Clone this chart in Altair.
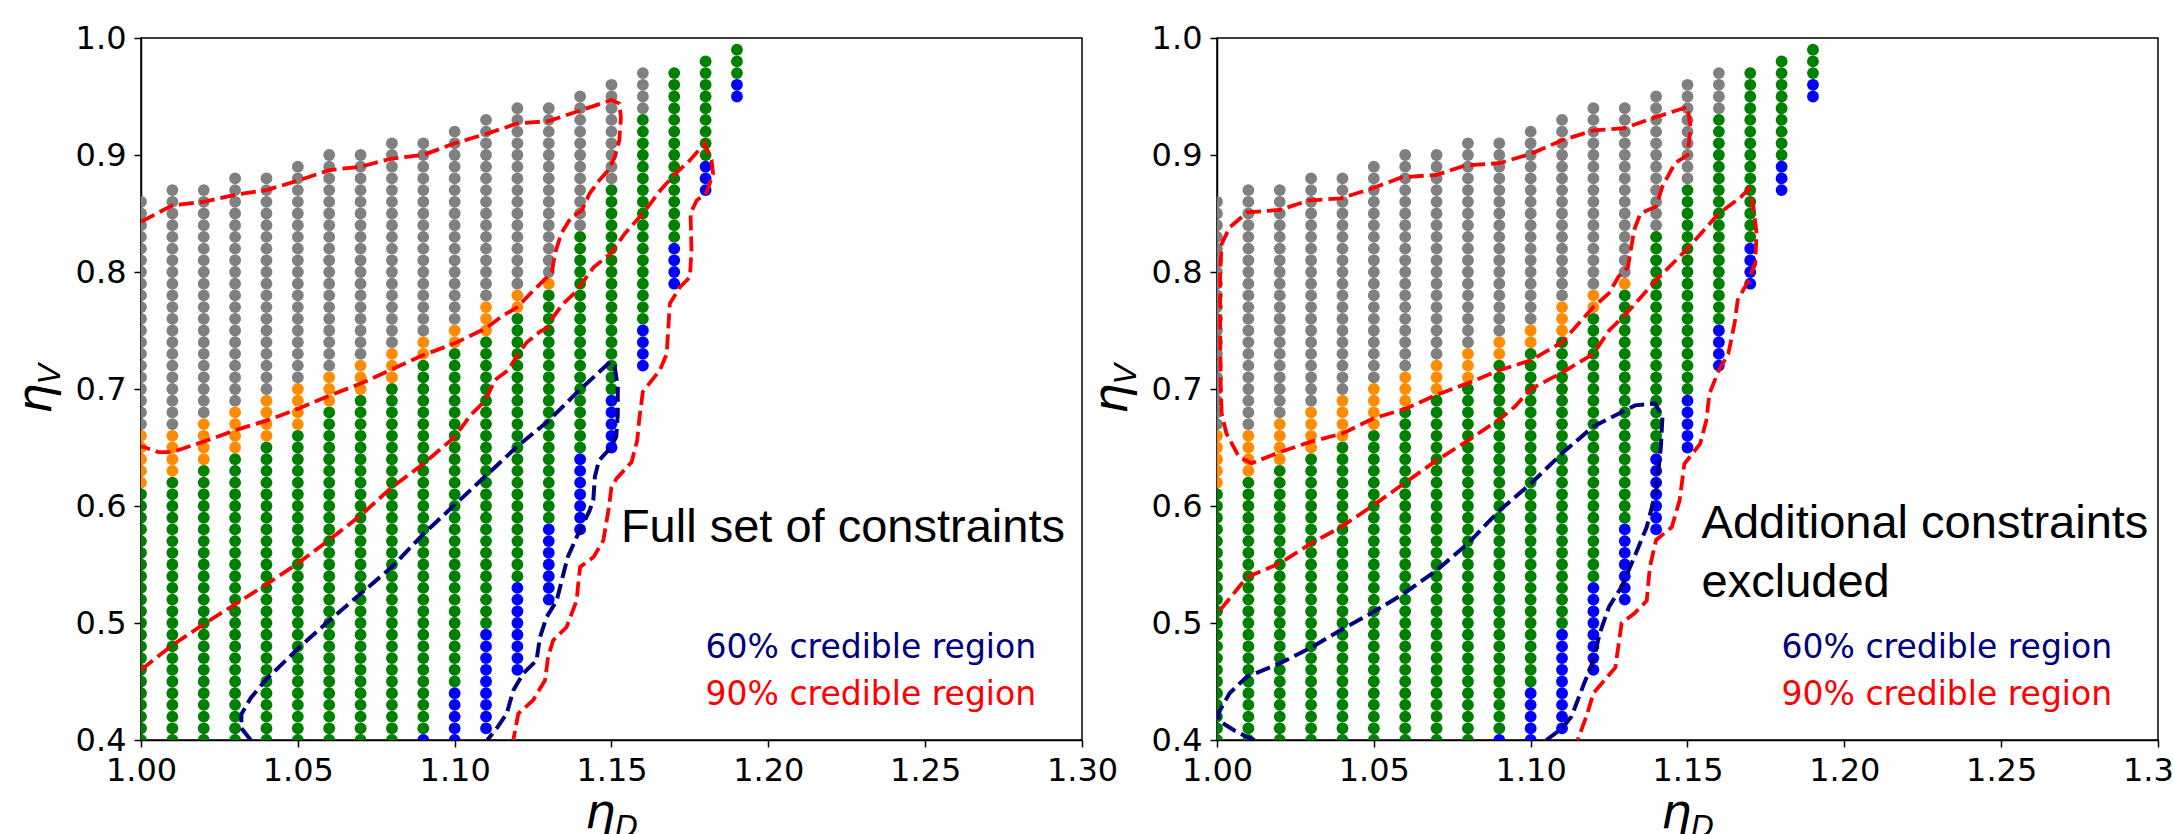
import altair as alt
import pandas as pd

# ---------------- grid of models (same in both panels) ----------------
col_x = [1.00, 1.01, 1.02, 1.03, 1.04, 1.05, 1.06, 1.07, 1.08, 1.09,
         1.10, 1.11, 1.12, 1.13, 1.14, 1.15, 1.16, 1.17, 1.18, 1.19]
blue_lo = [None] * 9 + [0.40, 0.40, 0.41, 0.46, 0.52, 0.58, 0.65, 0.72, 0.79, 0.87, 0.95]
blue_hi = [None] * 9 + [0.40, 0.44, 0.49, 0.53, 0.58, 0.64, 0.69, 0.75, 0.82, 0.89, 0.96]
green_lo = [0.40] * 9 + [0.41, 0.45, 0.50, 0.54, 0.59, 0.65, 0.70, 0.76, 0.83, 0.90, 0.97]
green_hi = [0.61, 0.62, 0.63, 0.64, 0.65, 0.66, 0.68, 0.69, 0.70, 0.72,
            0.73, 0.74, 0.76, 0.78, 0.83, 0.87, 0.93, 0.97, 0.98, 0.99]
orange_lo = [0.62, 0.63, 0.64, 0.65, 0.66, 0.67, 0.69, 0.70, 0.71, 0.73,
             0.74, 0.75, 0.77, 0.79] + [None] * 6
orange_hi = [0.66, 0.66, 0.67, 0.68, 0.69, 0.70, 0.71, 0.72, 0.73, 0.74,
             0.75, 0.77, 0.78, 0.79] + [None] * 6
gray_lo = [0.67, 0.67, 0.68, 0.69, 0.70, 0.71, 0.72, 0.73, 0.74, 0.75,
           0.76, 0.78, 0.79, 0.80, 0.84, 0.88, 0.94] + [None] * 3
gray_hi = [0.86, 0.87, 0.87, 0.88, 0.88, 0.89, 0.90, 0.90, 0.91, 0.91,
           0.92, 0.93, 0.94, 0.94, 0.95, 0.96, 0.97] + [None] * 3

cats = ["gray", "orange", "green", "blue"]
cat_colors = ["#808080", "#ff8c00", "#008000", "#0000ff"]

rows = []
for i, xv in enumerate(col_x):
    for cat, lo, hi in (("green", green_lo[i], green_hi[i]),
                        ("blue", blue_lo[i], blue_hi[i]),
                        ("orange", orange_lo[i], orange_hi[i]),
                        ("gray", gray_lo[i], gray_hi[i])):
        if lo is None:
            continue
        for k in range(round(lo * 100), round(hi * 100) + 1):
            rows.append({"x": xv, "y": k / 100, "c": cat})
points_df = pd.DataFrame(rows)

# ---------------- contours, left panel (full set of constraints) ----------------
L_red_up_x = [1.000, 1.0036, 1.010, 1.020, 1.030, 1.040, 1.050, 1.060, 1.070, 1.080, 1.090, 1.100,
              1.110, 1.120, 1.130, 1.140, 1.150, 1.1525, 1.153, 1.1525, 1.151, 1.149, 1.146, 1.143,
              1.1406, 1.137, 1.134, 1.132, 1.131, 1.1296, 1.125, 1.120, 1.115, 1.110, 1.100, 1.090,
              1.0826, 1.070, 1.0603, 1.050, 1.040, 1.030, 1.020, 1.0099, 1.0056, 1.0009, 1.000]
L_red_up_y = [0.843, 0.848, 0.857, 0.860, 0.866, 0.870, 0.878, 0.887, 0.890, 0.897, 0.900, 0.910,
              0.918, 0.927, 0.929, 0.938, 0.947, 0.944, 0.932, 0.9125, 0.898, 0.887, 0.878, 0.867,
              0.853, 0.846, 0.833, 0.816, 0.800, 0.796, 0.784, 0.770, 0.762, 0.752, 0.739, 0.729,
              0.720, 0.7046, 0.6946, 0.683, 0.673, 0.6647, 0.655, 0.646, 0.646, 0.6504, 0.651]
L_red_lo_x = [1.000, 1.010, 1.020, 1.030, 1.040, 1.050, 1.060, 1.070, 1.080, 1.090, 1.100, 1.105,
              1.1097, 1.1128, 1.117, 1.1203, 1.123, 1.1272, 1.130, 1.1314, 1.1346, 1.1386, 1.1443,
              1.1497, 1.1543, 1.160, 1.1656, 1.170, 1.175, 1.1797, 1.1819, 1.1824, 1.1803, 1.1771,
              1.1752, 1.1755, 1.175, 1.1718, 1.1686, 1.1676, 1.1654, 1.160, 1.1588, 1.1582, 1.1564,
              1.1516, 1.150, 1.149, 1.1474, 1.1443, 1.140, 1.1393, 1.1389, 1.1357, 1.1314, 1.1298,
              1.1288, 1.125, 1.1203, 1.1187]
L_red_lo_y = [0.460, 0.481, 0.499, 0.516, 0.533, 0.551, 0.571, 0.592, 0.616, 0.636, 0.659, 0.6775,
              0.690, 0.7075, 0.716, 0.730, 0.740, 0.749, 0.753, 0.7615, 0.773, 0.783, 0.804,
              0.8157, 0.833, 0.850, 0.870, 0.883, 0.8955, 0.9097, 0.8955, 0.884, 0.868, 0.861,
              0.850, 0.8186, 0.7957, 0.787, 0.773, 0.730, 0.716, 0.6977, 0.673, 0.656, 0.6376,
              0.6234, 0.616, 0.596, 0.5706, 0.5564, 0.548, 0.531, 0.5194, 0.4966, 0.4852, 0.471,
              0.451, 0.434, 0.4226, 0.400]
L_navy_x = [1.035, 1.032, 1.032, 1.035, 1.040, 1.050, 1.060, 1.070, 1.080, 1.090, 1.100, 1.110,
            1.120, 1.130, 1.139, 1.1495, 1.151, 1.152, 1.152, 1.1515, 1.1495, 1.146, 1.1447,
            1.1442, 1.143, 1.139, 1.136, 1.1325, 1.1293, 1.1272, 1.1261, 1.1219, 1.1187, 1.1166,
            1.1134, 1.1104]
L_navy_y = [0.400, 0.410, 0.422, 0.436, 0.452, 0.478, 0.502, 0.525, 0.548, 0.576, 0.601, 0.626,
            0.651, 0.673, 0.697, 0.723, 0.719, 0.702, 0.679, 0.659, 0.649, 0.639, 0.625,
            0.605, 0.596, 0.574, 0.556, 0.519, 0.505, 0.488, 0.468, 0.457, 0.4425, 0.4226,
            0.410, 0.400]

# ---------------- contours, right panel (additional constraints excluded) ----------------
R_red_up_x = [1.0015, 1.0012, 1.001, 1.001, 1.0015, 1.004, 1.0096, 1.020, 1.029, 1.0395, 1.049,
              1.059, 1.070, 1.079, 1.090, 1.100, 1.110, 1.120, 1.130, 1.140, 1.150, 1.151, 1.150,
              1.146, 1.142, 1.140, 1.135, 1.133, 1.131, 1.128, 1.125, 1.120, 1.110, 1.100, 1.090,
              1.080, 1.070, 1.060, 1.050, 1.040, 1.030, 1.020, 1.011, 1.007, 1.003, 1.0015]
R_red_up_y = [0.679, 0.700, 0.750, 0.800, 0.824, 0.838, 0.851, 0.853, 0.861, 0.863, 0.871,
              0.881, 0.883, 0.891, 0.893, 0.901, 0.9125, 0.921, 0.923, 0.9325, 0.941, 0.924, 0.900,
              0.893, 0.873, 0.856, 0.850, 0.836, 0.804, 0.796, 0.782, 0.770, 0.740, 0.7245, 0.716,
              0.705, 0.695, 0.683, 0.675, 0.662, 0.655, 0.646, 0.6365, 0.642, 0.662, 0.679]
R_red_lo_x = [1.001, 1.0095, 1.020, 1.030, 1.0395, 1.049, 1.0595, 1.070, 1.080, 1.090, 1.095,
              1.100, 1.110, 1.120, 1.125, 1.130, 1.140, 1.150, 1.160, 1.167, 1.1695, 1.171, 1.172,
              1.1716, 1.1695, 1.166, 1.165, 1.163, 1.160, 1.157, 1.156, 1.154, 1.149, 1.1475,
              1.145, 1.140, 1.138, 1.137, 1.133, 1.129, 1.127, 1.120, 1.118, 1.115]
R_red_lo_y = [0.511, 0.539, 0.551, 0.568, 0.582, 0.599, 0.619, 0.639, 0.656, 0.674, 0.685,
              0.700, 0.714, 0.730, 0.750, 0.763, 0.793, 0.820, 0.850, 0.864, 0.871, 0.856, 0.833,
              0.807, 0.793, 0.776, 0.756, 0.730, 0.716, 0.696, 0.673, 0.653, 0.636, 0.605,
              0.582, 0.571, 0.548, 0.519, 0.508, 0.500, 0.462, 0.440, 0.422, 0.400]
R_navy_x = [1.012, 1.0096, 1.0054, 1.0005, 1.0005, 1.004, 1.0095, 1.020, 1.030, 1.0395, 1.049,
            1.0595, 1.070, 1.080, 1.090, 1.100, 1.110, 1.120, 1.1333, 1.1397, 1.142, 1.1415,
            1.140, 1.137, 1.133, 1.129, 1.125, 1.122, 1.120, 1.117, 1.113, 1.110, 1.105]
R_navy_y = [0.400, 0.4026, 0.4083, 0.4167, 0.423, 0.440, 0.454, 0.4655, 0.479, 0.494, 0.508,
            0.525, 0.545, 0.568, 0.596, 0.619, 0.645, 0.668, 0.686, 0.6875, 0.676, 0.650,
            0.613, 0.582, 0.556, 0.531, 0.514, 0.491, 0.468, 0.448, 0.420, 0.410, 0.400]

x_ticks = [1.00, 1.05, 1.10, 1.15, 1.20, 1.25, 1.30]
y_ticks = [0.4, 0.5, 0.6, 0.7, 0.8, 0.9, 1.0]

xs = alt.Scale(domain=[1.0, 1.3], nice=False, zero=False)
ys = alt.Scale(domain=[0.4, 1.0], nice=False, zero=False)
x_axis = alt.Axis(values=x_ticks, format=".2f", labelFlush=False, labelOverlap=False, title=None)
y_axis = alt.Axis(values=y_ticks, format=".1f", labelFlush=False, labelOverlap=False, title=None)


def path_df(xl, yl, pid):
    return pd.DataFrame({"x": xl, "y": yl, "i": list(range(len(xl))), "id": pid})


def text_layer(txt, px, py, size, angle=0, font="DejaVu Sans", italic=True):
    return alt.Chart(pd.DataFrame({"t": [txt]})).mark_text(
        font=font, fontSize=size, fontStyle="italic" if italic else "normal",
        align="left", baseline="alphabetic", angle=angle, color="black"
    ).encode(text="t:N", x=alt.value(px), y=alt.value(py))


def panel(red_paths, navy_path, notes):
    pts = alt.Chart(points_df).mark_circle(size=140, opacity=1, clip=True).encode(
        x=alt.X("x:Q", scale=xs, axis=x_axis),
        y=alt.Y("y:Q", scale=ys, axis=y_axis),
        color=alt.Color("c:N", scale=alt.Scale(domain=cats, range=cat_colors), legend=None),
    )
    red_df = pd.concat([path_df(a, b, k) for k, (a, b) in enumerate(red_paths)])
    red = alt.Chart(red_df).mark_line(
        clip=True, color="#ff0000", strokeWidth=3.8, strokeDash=[15, 6]
    ).encode(x="x:Q", y="y:Q", detail="id:N", order="i:Q")
    navy = alt.Chart(path_df(navy_path[0], navy_path[1], 0)).mark_line(
        clip=True, color="#000080", strokeWidth=4, strokeDash=[15, 6]
    ).encode(x="x:Q", y="y:Q", order="i:Q")
    ann = alt.Chart(pd.DataFrame(notes["big"])).mark_text(
        font="Liberation Sans", fontSize=47, align="left", baseline="alphabetic", color="black"
    ).encode(x=alt.X("x:Q"), y=alt.Y("y:Q"), text="t:N")
    leg = alt.Chart(pd.DataFrame({
        "x": [1.18, 1.18], "y": [0.47, 0.43],
        "t": ["60% credible region", "90% credible region"],
        "col": ["#000080", "#ff0000"],
    })).mark_text(font="DejaVu Sans", fontSize=33, align="left", baseline="alphabetic").encode(
        x="x:Q", y="y:Q", text="t:N", color=alt.Color("col:N", scale=None)
    )
    eta_v = text_layer("η", -90, 376, 48, angle=270)
    sub_v = text_layer("V", -81, 346, 30, angle=270)
    eta_d = text_layer("η", 444, 790, 48)
    sub_d = text_layer("D", 474, 799, 30)
    return alt.layer(pts, red, navy, ann, leg, eta_v, sub_v, eta_d, sub_d).properties(
        width=941, height=702
    )


left = panel(
    [(L_red_up_x, L_red_up_y), (L_red_lo_x, L_red_lo_y)],
    (L_navy_x, L_navy_y),
    {"big": {"x": [1.153], "y": [0.569], "t": ["Full set of constraints"]}},
)
right = panel(
    [(R_red_up_x, R_red_up_y), (R_red_lo_x, R_red_lo_y)],
    (R_navy_x, R_navy_y),
    {"big": {"x": [1.1545, 1.1545], "y": [0.5725, 0.522],
             "t": ["Additional constraints", "excluded"]}},
)

# autosize "none": the concat's own width is 0, so the right padding carries the
# rest of the 2173-px canvas; anything past the canvas edge is cut, as in the original.
chart = alt.hconcat(left, right, spacing=135, bounds="flush").properties(
    autosize=alt.AutoSizeParams(type="none"),
    padding={"left": 141, "top": 38, "right": 2032, "bottom": 94},
    background="white",
).configure_axis(
    labelFont="DejaVu Sans", labelFontSize=32, labelColor="black", labelPadding=8,
    domainColor="black", domainWidth=1.5, tickColor="black", tickWidth=1.5, tickSize=7,
    grid=False,
).configure_view(stroke="black", strokeWidth=1.5)

chart.save("out.html", embed_options={"renderer": "svg", "actions": False})
